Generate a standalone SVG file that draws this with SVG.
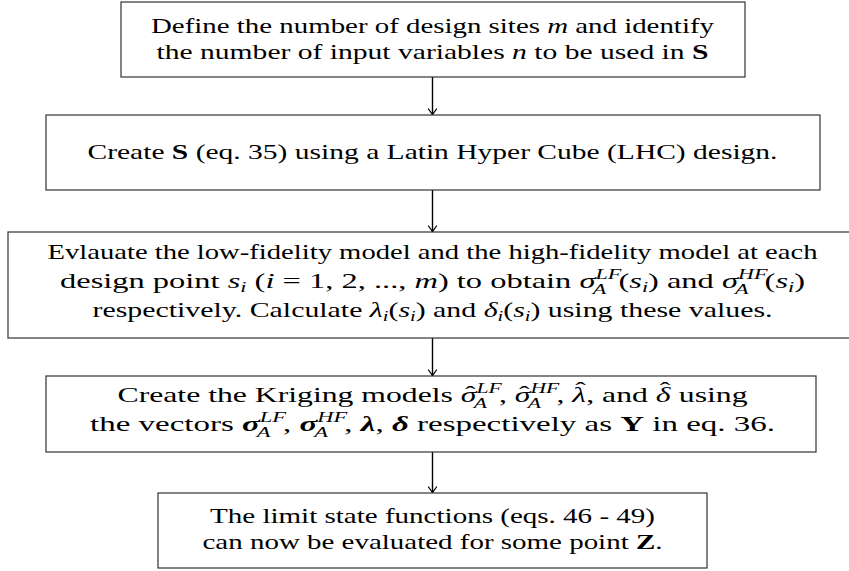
<svg xmlns="http://www.w3.org/2000/svg" width="849" height="571" viewBox="0 0 849 571">
<style>
.box{fill:#fff;stroke:#333;stroke-width:1.2}
.t{font-family:"Liberation Serif","Times New Roman",serif;font-size:22px;fill:#000}
.it{font-style:italic}
.b{font-weight:bold}
.sm{font-size:15px}
.con{stroke:#000;stroke-width:1.4;fill:none}
</style>
<defs>
<marker id="arr" markerWidth="12" markerHeight="12" refX="0" refY="0" viewBox="-7 -6 8 12" orient="auto" markerUnits="userSpaceOnUse">
<path d="M-5.5,-4 Q-1.5,-1.2 0,0 Q-1.5,1.2 -5.5,4" fill="none" stroke="#000" stroke-width="1.3" stroke-linecap="round"/>
</marker>
</defs>
<rect width="849" height="571" fill="#fff"/>
<g id="connectors">
<line class="con" x1="432.5" y1="77" x2="432.5" y2="114.5" marker-end="url(#arr)"/>
<line class="con" x1="432.5" y1="190" x2="432.5" y2="231.5" marker-end="url(#arr)"/>
<line class="con" x1="432.5" y1="338" x2="432.5" y2="375.5" marker-end="url(#arr)"/>
<line class="con" x1="432.5" y1="452" x2="432.5" y2="492.5" marker-end="url(#arr)"/>
</g>
<g id="node1">
<rect class="box" x="121" y="2" width="624" height="75"/>
<text class="t" x="432.5" y="32.5" text-anchor="middle" textLength="563" lengthAdjust="spacingAndGlyphs">Define the number of design sites <tspan class="it">m</tspan> and identify</text>
<text class="t" x="432.5" y="58.5" text-anchor="middle" textLength="552" lengthAdjust="spacingAndGlyphs">the number of input variables <tspan class="it">n</tspan> to be used in <tspan class="b">S</tspan></text>
</g>
<g id="node2">
<rect class="box" x="46" y="115" width="774" height="75"/>
<text class="t" x="432.5" y="159" text-anchor="middle" textLength="690" lengthAdjust="spacingAndGlyphs">Create <tspan class="b">S</tspan> (eq.  35) using a Latin Hyper Cube (LHC) design.</text>
</g>
<g id="node3">
<rect class="box" x="8" y="232" width="849" height="106"/>
<text class="t" x="432.5" y="259" text-anchor="middle" textLength="770" lengthAdjust="spacingAndGlyphs">Evlauate the low-fidelity model and the high-fidelity model at each</text>
<text class="t" x="432.5" y="288" text-anchor="middle" textLength="745" lengthAdjust="spacingAndGlyphs">design point <tspan class="it">s</tspan><tspan class="it sm" dy="4">i</tspan><tspan dy="-4"> (</tspan><tspan class="it">i</tspan> = 1, 2, ..., <tspan class="it">m</tspan>) to obtain <tspan class="it">σ</tspan><tspan class="it sm" dy="-9">LF</tspan><tspan class="it sm" dx="-17.5" dy="15">A</tspan><tspan dx="8.3" dy="-6">(</tspan><tspan class="it">s</tspan><tspan class="it sm" dy="4">i</tspan><tspan dy="-4">) and </tspan><tspan class="it">σ</tspan><tspan class="it sm" dy="-9">HF</tspan><tspan class="it sm" dx="-20" dy="15">A</tspan><tspan dx="10.8" dy="-6">(</tspan><tspan class="it">s</tspan><tspan class="it sm" dy="4">i</tspan><tspan dy="-4">)</tspan></text>
<text class="t" x="432.5" y="317" text-anchor="middle" textLength="680" lengthAdjust="spacingAndGlyphs">respectively.  Calculate <tspan class="it">λ</tspan><tspan class="it sm" dy="4">i</tspan><tspan dy="-4">(</tspan><tspan class="it">s</tspan><tspan class="it sm" dy="4">i</tspan><tspan dy="-4">) and </tspan><tspan class="it">δ</tspan><tspan class="it sm" dy="4">i</tspan><tspan dy="-4">(</tspan><tspan class="it">s</tspan><tspan class="it sm" dy="4">i</tspan><tspan dy="-4">) using these values.</tspan></text>
</g>
<g id="node4">
<rect class="box" x="46" y="376" width="770" height="76"/>
<text class="t" x="432.5" y="402" text-anchor="middle" textLength="630" lengthAdjust="spacingAndGlyphs">Create the Kriging models <tspan class="it">σ</tspan><tspan dx="-7.9" dy="-1">ˆ</tspan><tspan class="it sm" dx="0.6" dy="-8">LF</tspan><tspan class="it sm" dx="-17.5" dy="15">A</tspan><tspan dx="8.3" dy="-6">, </tspan><tspan class="it">σ</tspan><tspan dx="-7.9" dy="-1">ˆ</tspan><tspan class="it sm" dx="0.6" dy="-8">HF</tspan><tspan class="it sm" dx="-20" dy="15">A</tspan><tspan dx="10.8" dy="-6">, </tspan><tspan class="it">λ</tspan><tspan dx="-7.5" dy="-5">ˆ</tspan><tspan dx="0.3" dy="5">, and </tspan><tspan class="it">δ</tspan><tspan dx="-7.4" dy="-5">ˆ</tspan><tspan dx="0.3" dy="5"> using</tspan></text>
<text class="t" x="432.5" y="431" text-anchor="middle" textLength="685" lengthAdjust="spacingAndGlyphs">the vectors <tspan class="it b">σ</tspan><tspan class="it sm" dy="-9">LF</tspan><tspan class="it sm" dx="-17.5" dy="15">A</tspan><tspan dx="8.3" dy="-6">, </tspan><tspan class="it b">σ</tspan><tspan class="it sm" dy="-9">HF</tspan><tspan class="it sm" dx="-20" dy="15">A</tspan><tspan dx="10.8" dy="-6">, </tspan><tspan class="it b">λ</tspan>, <tspan class="it b">δ</tspan> respectively as <tspan class="b">Y</tspan> in eq.  36.</text>
</g>
<g id="node5">
<rect class="box" x="158" y="493" width="549" height="75"/>
<text class="t" x="432.5" y="523" text-anchor="middle" textLength="445" lengthAdjust="spacingAndGlyphs">The limit state functions (eqs.  46 - 49)</text>
<text class="t" x="432.5" y="549" text-anchor="middle" textLength="460" lengthAdjust="spacingAndGlyphs">can now be evaluated for some point <tspan class="b">Z</tspan>.</text>
</g>
</svg>
